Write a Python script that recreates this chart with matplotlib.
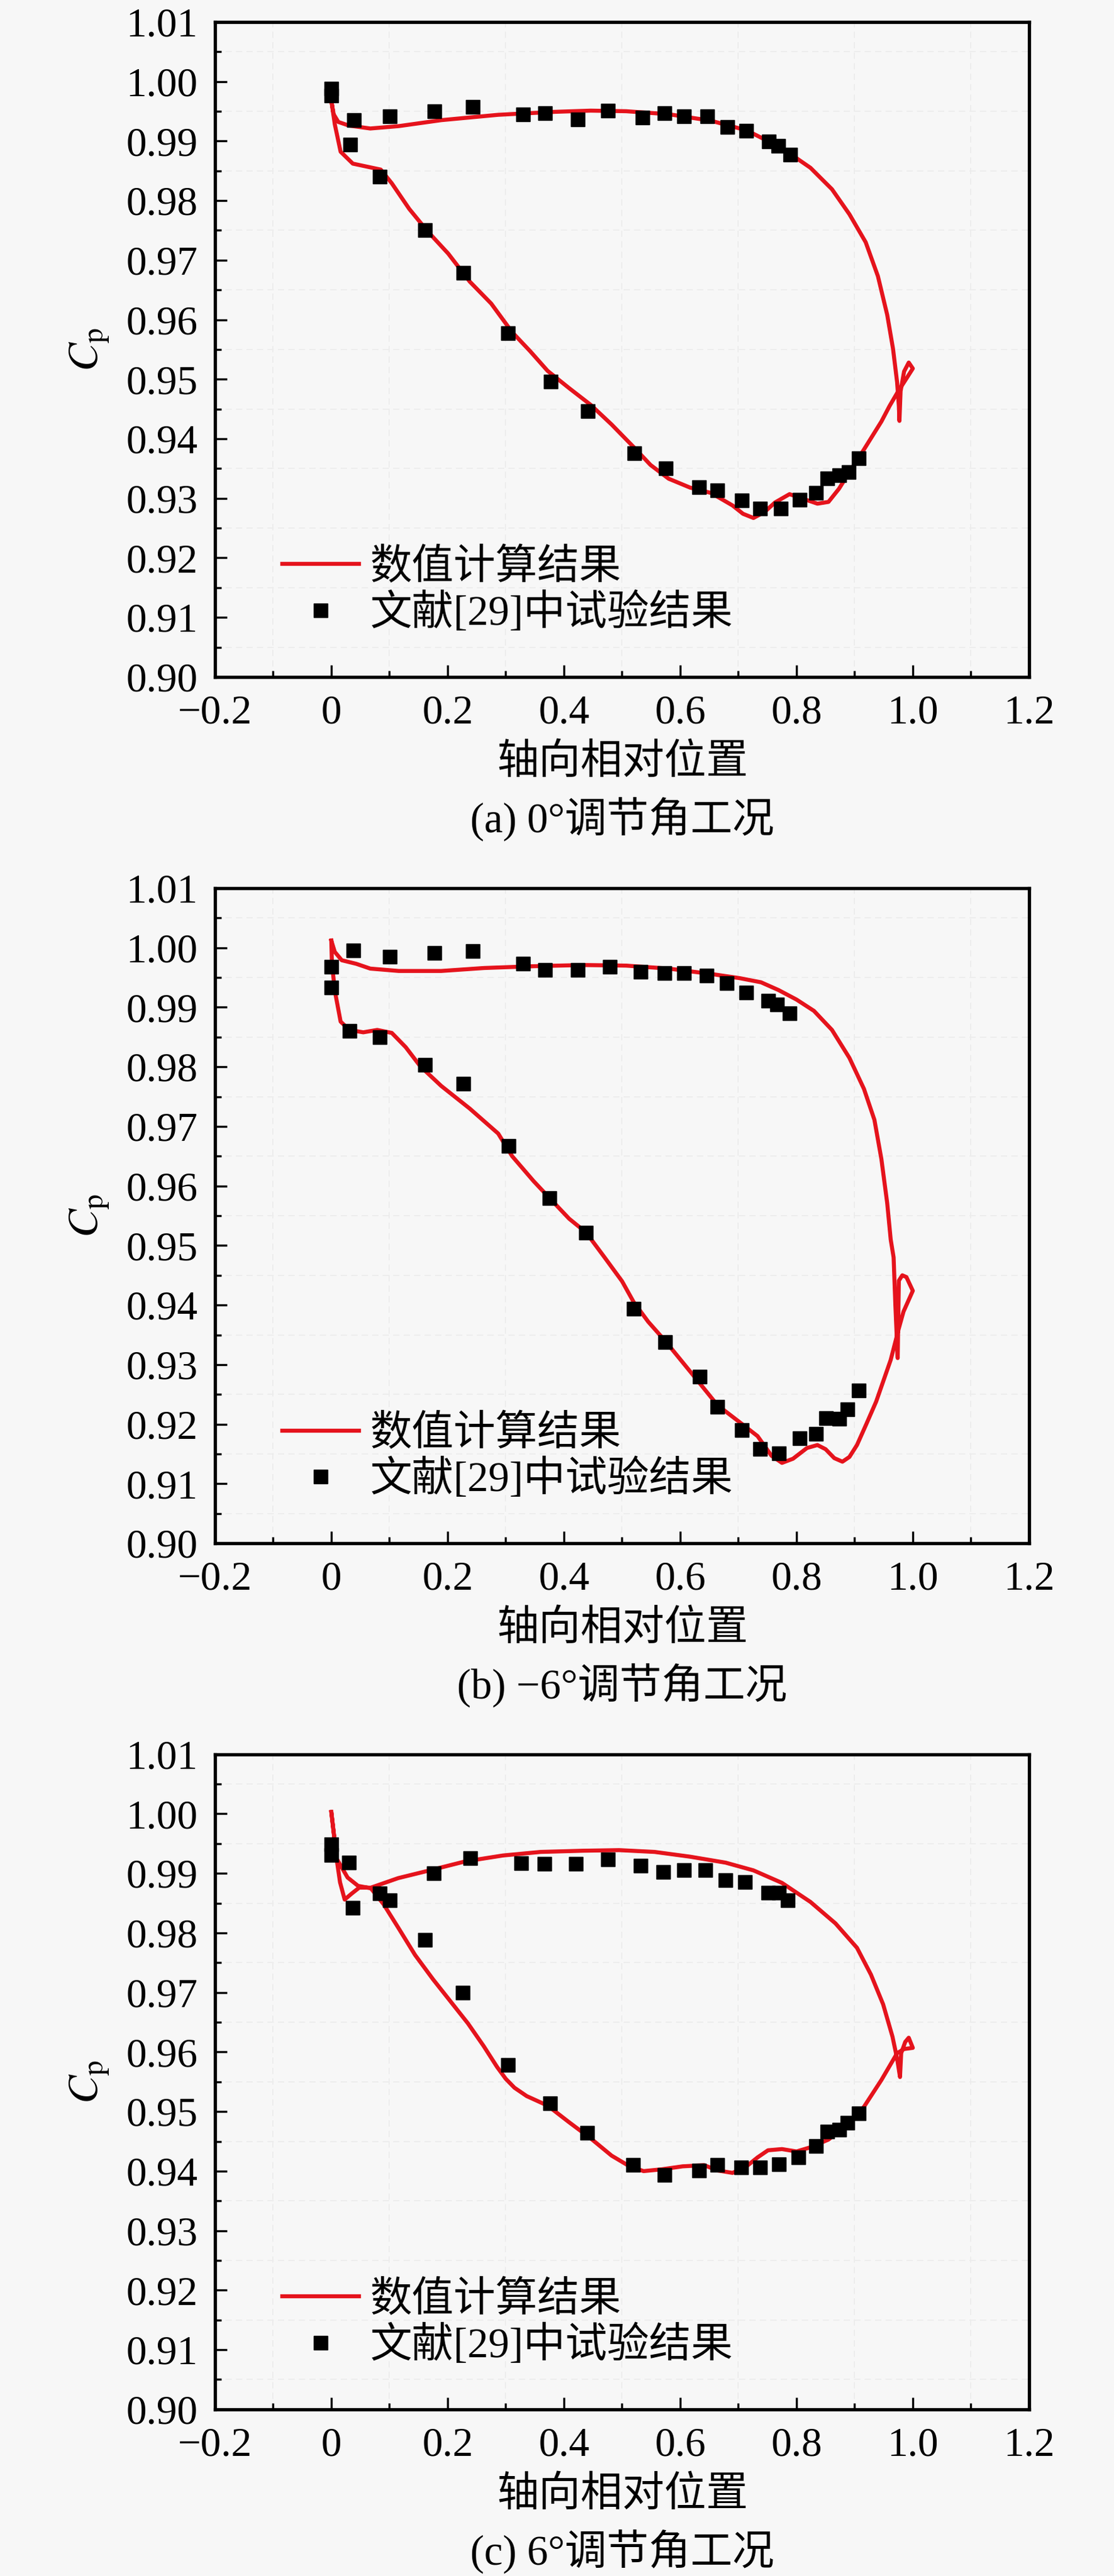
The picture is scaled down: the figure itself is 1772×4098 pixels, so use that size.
import matplotlib
matplotlib.use('Agg')
import matplotlib.pyplot as plt
from matplotlib.ticker import MultipleLocator

plt.rcParams['font.family'] = ['Liberation Serif', 'Noto Sans CJK SC']
plt.rcParams['mathtext.fontset'] = 'stix'
plt.rcParams['axes.unicode_minus'] = True

# ---- data ----
x_ticks = [-0.2, 0.0, 0.2, 0.4, 0.6, 0.8, 1.0, 1.2]
x_tick_labels = ['\u22120.2', '0', '0.2', '0.4', '0.6', '0.8', '1.0', '1.2']
y_ticks = [0.90, 0.91, 0.92, 0.93, 0.94, 0.95, 0.96, 0.97, 0.98, 0.99, 1.00, 1.01]
y_tick_labels = ['%.2f' % v for v in y_ticks]

legend_labels = ['数值计算结果', '文献[29]中试验结果']
x_label = '轴向相对位置'
captions = ['(a) 0°调节角工况', '(b) \u22126°调节角工况', '(c) 6°调节角工况']

# (a) 0 deg - CFD loop (pressure side -> TE -> suction side)
a_cfd_x = [0.000, 0.004, 0.012, 0.030, 0.067, 0.116, 0.189, 0.287, 0.385, 0.446,
           0.507, 0.580, 0.653, 0.714, 0.775, 0.824, 0.861, 0.891, 0.919, 0.940,
           0.956, 0.966, 0.973, 0.976, 0.977, 0.979, 0.985, 0.993, 1.000, 0.985,
           0.975, 0.960, 0.946, 0.916, 0.891, 0.873, 0.855, 0.836, 0.818, 0.788,
           0.763, 0.745, 0.726, 0.708, 0.690, 0.653, 0.617, 0.580, 0.549, 0.519,
           0.482, 0.446, 0.409, 0.372, 0.342, 0.311, 0.275, 0.238, 0.201, 0.165,
           0.134, 0.104, 0.085, 0.061, 0.037, 0.016, 0.006, 0.000]
a_cfd_y = [0.9968, 0.9945, 0.9932, 0.9926, 0.9921, 0.9925, 0.9935, 0.9944, 0.9949, 0.9951,
           0.9950, 0.9945, 0.9934, 0.9918, 0.9888, 0.9855, 0.9819, 0.9777, 0.9730, 0.9673,
           0.9608, 0.9551, 0.9495, 0.9455, 0.9430, 0.9480, 0.9513, 0.9528, 0.9518, 0.9495,
           0.9480, 0.9455, 0.9429, 0.9382, 0.9344, 0.9316, 0.9294, 0.9291, 0.9297, 0.9307,
           0.9293, 0.9277, 0.9267, 0.9274, 0.9288, 0.9309, 0.9318, 0.9333, 0.9356, 0.9387,
           0.9424, 0.9457, 0.9485, 0.9514, 0.9547, 0.9579, 0.9627, 0.9664, 0.9711, 0.9749,
           0.9786, 0.9829, 0.9852, 0.9857, 0.9862, 0.9882, 0.9928, 0.9968]
a_exp_x = [0.000, 0.000, 0.039, 0.032, 0.101, 0.083, 0.177, 0.161, 0.243, 0.227,
           0.330, 0.304, 0.368, 0.377, 0.424, 0.441, 0.476, 0.521, 0.535, 0.575,
           0.573, 0.607, 0.632, 0.646, 0.664, 0.681, 0.706, 0.713, 0.737, 0.752,
           0.773, 0.769, 0.789, 0.805, 0.833, 0.853, 0.874, 0.890, 0.907]
a_exp_y = [0.9988, 0.9976, 0.9935, 0.9894, 0.9941, 0.9840, 0.9950, 0.9750, 0.9957, 0.9679,
           0.9945, 0.9577, 0.9947, 0.9496, 0.9936, 0.9446, 0.9951, 0.9376, 0.9939, 0.9350,
           0.9947, 0.9941, 0.9319, 0.9941, 0.9313, 0.9924, 0.9297, 0.9917, 0.9283, 0.9899,
           0.9283, 0.9892, 0.9877, 0.9298, 0.9309, 0.9334, 0.9339, 0.9344, 0.9367]

# (b) -6 deg
b_cfd_x = [0.000, 0.006, 0.018, 0.043, 0.067, 0.116, 0.189, 0.263, 0.348, 0.433,
           0.507, 0.580, 0.653, 0.702, 0.739, 0.769, 0.800, 0.830, 0.861, 0.891,
           0.916, 0.934, 0.946, 0.956, 0.962, 0.967, 0.970, 0.974, 0.976, 0.982,
           0.989, 1.000, 0.984, 0.976, 0.962, 0.937, 0.920, 0.904, 0.891, 0.879,
           0.865, 0.850, 0.836, 0.818, 0.794, 0.775, 0.757, 0.733, 0.700, 0.664,
           0.620, 0.574, 0.545, 0.520, 0.500, 0.470, 0.438, 0.409, 0.375, 0.348,
           0.311, 0.287, 0.238, 0.189, 0.153, 0.128, 0.104, 0.079, 0.055, 0.031,
           0.016, 0.006, 0.001, 0.000]
b_cfd_y = [1.0012, 0.9993, 0.9979, 0.9973, 0.9965, 0.9961, 0.9961, 0.9966, 0.9969, 0.9971,
           0.9970, 0.9965, 0.9956, 0.9949, 0.9942, 0.9929, 0.9913, 0.9894, 0.9862, 0.9815,
           0.9763, 0.9711, 0.9645, 0.9571, 0.9510, 0.9480, 0.9400, 0.9311, 0.9441, 0.9450,
           0.9447, 0.9424, 0.9389, 0.9361, 0.9308, 0.9238, 0.9200, 0.9165, 0.9145, 0.9137,
           0.9143, 0.9158, 0.9165, 0.9160, 0.9142, 0.9135, 0.9147, 0.9180, 0.9205, 0.9232,
           0.9285, 0.9340, 0.9372, 0.9405, 0.9440, 0.9480, 0.9522, 0.9545, 0.9580, 0.9608,
           0.9650, 0.9688, 0.9730, 0.9768, 0.9801, 0.9833, 0.9857, 0.9862, 0.9858, 0.9862,
           0.9876, 0.9928, 0.9975, 1.0012]
b_exp_x = [0.000, 0.000, 0.038, 0.031, 0.101, 0.083, 0.177, 0.161, 0.243, 0.227,
           0.330, 0.305, 0.368, 0.375, 0.424, 0.438, 0.479, 0.520, 0.532, 0.574,
           0.573, 0.606, 0.634, 0.645, 0.664, 0.680, 0.706, 0.713, 0.737, 0.751,
           0.770, 0.767, 0.788, 0.805, 0.833, 0.851, 0.874, 0.888, 0.907]
b_exp_y = [0.9968, 0.9933, 0.9996, 0.9860, 0.9985, 0.9850, 0.9991, 0.9803, 0.9994, 0.9772,
           0.9973, 0.9667, 0.9963, 0.9580, 0.9963, 0.9522, 0.9968, 0.9394, 0.9960, 0.9338,
           0.9957, 0.9957, 0.9280, 0.9953, 0.9229, 0.9941, 0.9190, 0.9925, 0.9158, 0.9911,
           0.9151, 0.9905, 0.9890, 0.9176, 0.9184, 0.9210, 0.9209, 0.9225, 0.9257]

# (c) 6 deg
c_cfd_x = [0.000, 0.005, 0.009, 0.015, 0.023, 0.035, 0.048, 0.068, 0.115, 0.165,
           0.230, 0.295, 0.360, 0.433, 0.495, 0.556, 0.617, 0.678, 0.726, 0.775,
           0.824, 0.867, 0.904, 0.928, 0.949, 0.965, 0.973, 0.978, 0.980, 0.987,
           0.993, 1.000, 0.985, 0.973, 0.946, 0.916, 0.885, 0.855, 0.824, 0.800,
           0.775, 0.751, 0.733, 0.714, 0.690, 0.665, 0.641, 0.604, 0.568, 0.537,
           0.513, 0.482, 0.446, 0.409, 0.372, 0.336, 0.315, 0.300, 0.285, 0.262,
           0.235, 0.205, 0.175, 0.144, 0.115, 0.090, 0.068, 0.046, 0.028, 0.009,
           0.005, 0.000]
c_cfd_y = [1.0003, 0.9961, 0.9925, 0.9885, 0.9856, 0.9866, 0.9876, 0.9876, 0.9892, 0.9904,
           0.9920, 0.9930, 0.9936, 0.9938, 0.9939, 0.9936, 0.9928, 0.9918, 0.9905, 0.9884,
           0.9852, 0.9816, 0.9775, 0.9730, 0.9680, 0.9626, 0.9589, 0.9558, 0.9598, 0.9617,
           0.9624, 0.9607, 0.9605, 0.9598, 0.9553, 0.9508, 0.9476, 0.9453, 0.9440, 0.9433,
           0.9437, 0.9435, 0.9423, 0.9408, 0.9397, 0.9401, 0.9410, 0.9408, 0.9403, 0.9400,
           0.9408, 0.9426, 0.9455, 0.9482, 0.9510, 0.9526, 0.9540, 0.9555, 0.9575, 0.9610,
           0.9648, 0.9685, 0.9722, 0.9763, 0.9809, 0.9848, 0.9875, 0.9879, 0.9893, 0.9925,
           0.9961, 1.0003]
c_exp_x = [0.000, 0.000, 0.030, 0.037, 0.083, 0.101, 0.176, 0.161, 0.239, 0.226,
           0.327, 0.304, 0.366, 0.376, 0.421, 0.440, 0.476, 0.519, 0.532, 0.573,
           0.571, 0.607, 0.632, 0.643, 0.664, 0.678, 0.705, 0.711, 0.737, 0.751,
           0.770, 0.770, 0.785, 0.803, 0.833, 0.853, 0.874, 0.888, 0.907]
c_exp_y = [0.9949, 0.9931, 0.9918, 0.9842, 0.9866, 0.9855, 0.9900, 0.9788, 0.9926, 0.9700,
           0.9917, 0.9578, 0.9916, 0.9514, 0.9916, 0.9464, 0.9923, 0.9410, 0.9913, 0.9394,
           0.9902, 0.9905, 0.9401, 0.9906, 0.9410, 0.9889, 0.9406, 0.9885, 0.9406, 0.9867,
           0.9412, 0.9868, 0.9855, 0.9423, 0.9442, 0.9466, 0.9470, 0.9481, 0.9497]

panels = [
    (a_cfd_x, a_cfd_y, a_exp_x, a_exp_y),
    (b_cfd_x, b_cfd_y, b_exp_x, b_exp_y),
    (c_cfd_x, c_cfd_y, c_exp_x, c_exp_y),
]

BG = '#f7f7f7'
RED = '#e5131c'
FS = 47

fig = plt.figure(figsize=(17.72, 40.98), dpi=100, facecolor=BG)
bottoms = [0.7372, 0.4009, 0.0647]

for i, (cx, cy, ex, ey) in enumerate(panels):
    ax = fig.add_axes([0.193, bottoms[i], 0.7308, 0.2543])
    ax.set_facecolor(BG)
    ax.set_axisbelow(True)

    ax.plot(cx, cy, color=RED, lw=4.6, label=legend_labels[0], zorder=3)
    ax.plot(ex, ey, ls='none', marker='s', ms=15.5, color='black',
            label=legend_labels[1], zorder=4)

    ax.set_xlim(-0.2, 1.2)
    ax.set_ylim(0.90, 1.01)
    ax.set_xticks(x_ticks)
    ax.set_xticklabels(x_tick_labels)
    ax.set_yticks(y_ticks)
    ax.set_yticklabels(y_tick_labels)
    ax.xaxis.set_minor_locator(MultipleLocator(0.1))
    ax.yaxis.set_minor_locator(MultipleLocator(0.005))
    ax.tick_params(which='both', direction='in', top=False, right=False,
                   labelsize=FS, pad=20)
    ax.tick_params(which='major', length=14, width=2.4)
    ax.tick_params(which='minor', length=7, width=2.4)
    for sp in ax.spines.values():
        sp.set_linewidth(3.8)
    ax.grid(which='minor', ls=(0, (6, 4)), color='#ececec', lw=1.2)

    ax.set_ylabel(r'$C_{\mathrm{p}}$', fontsize=FS + 2)
    ax.yaxis.set_label_coords(-0.128, 0.5)
    ax.set_xlabel(x_label, fontsize=FS + 1)
    ax.xaxis.set_label_coords(0.5, -0.102)
    ax.text(0.5, -0.217, captions[i], transform=ax.transAxes,
            ha='center', va='center', fontsize=FS + 1)

    ax.legend(loc='center left', bbox_to_anchor=(0.083, 0.131), frameon=False,
              borderpad=0, borderaxespad=0, handlelength=1.83,
              handletextpad=0.26, labelspacing=0.12, fontsize=FS + 1)

fig.savefig('out.png', dpi=100, facecolor=BG)
